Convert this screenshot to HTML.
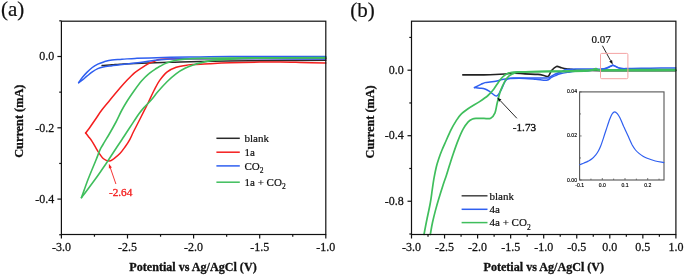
<!DOCTYPE html>
<html><head><meta charset="utf-8"><style>
html,body{margin:0;padding:0;background:#fff;}
body{width:685px;height:276px;overflow:hidden;font-family:"Liberation Serif", serif;}
svg{display:block;will-change:transform;}
</style></head><body>
<svg width="685" height="276" viewBox="0 0 685 276">
<rect width="685" height="276" fill="#fff"/>
<path d="M102.1,65.6 C103.8,65.5 109.0,65.0 112.0,64.8 C115.0,64.6 116.2,64.4 120.0,64.2 C123.8,64.0 126.7,63.7 135.0,63.4 C143.3,63.1 159.2,62.6 170.0,62.3 C180.8,62.0 186.7,61.6 200.0,61.4 C213.3,61.1 235.0,60.9 250.0,60.8 C265.0,60.6 277.4,60.6 290.0,60.5 C302.6,60.4 319.8,60.3 325.8,60.3" fill="none" stroke="#2a2a2a" stroke-width="1.5" stroke-linejoin="round" stroke-linecap="round" />
<path d="M325.8,63.1 C321.5,63.0 307.6,62.6 300.0,62.4 C292.4,62.2 286.7,62.0 280.0,62.0 C273.3,62.0 268.3,62.0 260.0,62.1 C251.7,62.2 238.3,62.5 230.0,62.8 C221.7,63.1 215.9,63.4 210.0,63.7 C204.1,64.0 198.5,64.2 194.4,64.5 C190.3,64.8 188.3,64.9 185.3,65.4 C182.3,65.9 179.3,66.2 176.3,67.3 C173.3,68.4 170.0,69.6 167.2,71.8 C164.4,74.0 161.7,77.5 159.5,80.6 C157.3,83.7 155.9,86.8 154.0,90.5 C152.1,94.2 149.9,99.2 148.3,102.5 C146.7,105.8 145.9,107.2 144.5,110.0 C143.1,112.8 141.8,115.4 140.0,119.0 C138.2,122.6 135.3,128.1 133.6,131.5 C131.9,134.9 131.3,136.7 129.9,139.3 C128.5,141.9 126.7,144.6 125.0,147.0 C123.3,149.4 121.7,151.7 119.9,153.6 C118.1,155.5 115.8,157.3 114.0,158.6 C112.2,159.8 110.8,161.1 109.0,161.1 C107.2,161.1 105.4,160.5 103.5,158.8 C101.6,157.1 99.3,153.5 97.5,150.7 C95.7,147.9 94.0,144.2 92.4,141.8 C90.9,139.4 89.3,137.7 88.2,136.2 C87.1,134.7 86.0,133.5 85.6,133.0" fill="none" stroke="#f41e1e" stroke-width="1.5" stroke-linejoin="round" stroke-linecap="round" />
<path d="M85.6,133.0 C86.3,132.0 88.3,129.6 90.0,127.2 C91.7,124.8 94.0,121.4 96.0,118.5 C98.0,115.6 99.4,113.1 101.8,110.0 C104.2,106.9 107.2,103.5 110.2,99.8 C113.2,96.1 117.2,91.4 120.0,88.1 C122.8,84.8 124.8,82.6 127.2,80.1 C129.6,77.6 132.1,75.0 134.5,72.9 C136.9,70.9 139.3,69.4 141.7,67.8 C144.1,66.2 147.1,64.4 149.0,63.4 C150.9,62.4 151.8,62.4 153.3,61.8 C154.8,61.2 156.1,60.3 158.0,59.8 C159.9,59.3 158.0,59.1 165.0,58.9 C172.0,58.7 173.2,58.8 200.0,58.7 C226.8,58.6 305.0,58.5 326.0,58.5" fill="none" stroke="#f41e1e" stroke-width="1.5" stroke-linejoin="round" stroke-linecap="round" />
<path d="M325.8,56.6 C318.2,56.6 296.0,56.4 280.0,56.4 C264.0,56.4 243.3,56.5 230.0,56.6 C216.7,56.7 210.0,56.8 200.0,56.9 C190.0,57.0 178.3,57.1 170.0,57.3 C161.7,57.5 155.8,57.7 150.0,57.9 C144.2,58.1 139.7,58.2 135.0,58.4 C130.3,58.6 125.8,59.0 122.0,59.2 C118.2,59.5 115.0,59.5 112.0,59.9 C109.0,60.3 106.7,61.0 104.3,61.7 C101.9,62.4 99.8,63.2 97.8,64.2 C95.8,65.2 94.1,66.1 92.3,67.5 C90.5,68.9 88.5,70.8 86.9,72.4 C85.3,74.0 83.9,75.6 82.5,77.3 C81.1,79.0 79.3,81.8 78.7,82.7" fill="none" stroke="#2f5ff0" stroke-width="1.5" stroke-linejoin="round" stroke-linecap="round" />
<path d="M78.7,82.7 C79.3,82.2 81.1,81.0 82.5,79.9 C83.9,78.8 85.3,77.5 86.9,76.2 C88.5,74.9 90.5,73.2 92.3,71.9 C94.1,70.6 96.0,69.4 97.8,68.6 C99.6,67.8 100.8,67.5 103.2,67.0 C105.6,66.5 109.2,66.1 112.0,65.7 C114.8,65.3 115.3,65.2 120.0,64.7 C124.7,64.2 134.2,63.1 140.0,62.4 C145.8,61.7 150.0,60.9 155.0,60.3 C160.0,59.7 162.5,59.2 170.0,58.9 C177.5,58.6 186.7,58.7 200.0,58.7 C213.3,58.7 233.3,58.8 250.0,58.8 C266.7,58.8 287.4,58.9 300.0,58.9 C312.6,58.9 321.5,58.9 325.8,58.9" fill="none" stroke="#2f5ff0" stroke-width="1.5" stroke-linejoin="round" stroke-linecap="round" />
<path d="M81.5,197.6 C82.6,194.6 85.7,185.6 88.1,179.3 C90.5,173.0 94.0,164.9 96.0,160.0 C98.0,155.1 98.8,152.4 100.0,149.8 C101.2,147.2 101.5,147.1 103.0,144.5 C104.5,141.9 106.8,138.2 109.0,134.5 C111.2,130.8 113.8,126.1 116.0,122.0 C118.2,117.9 120.0,113.5 121.9,110.0 C123.8,106.5 125.1,104.3 127.2,101.0 C129.3,97.7 132.1,93.7 134.5,90.3 C136.9,86.9 139.3,83.6 141.7,80.8 C144.1,78.0 146.6,75.6 149.0,73.6 C151.4,71.5 154.4,69.7 156.2,68.5 C158.0,67.3 158.2,67.3 160.0,66.3 C161.8,65.3 164.3,63.7 167.0,62.7 C169.7,61.7 173.0,60.9 176.0,60.3 C179.0,59.7 181.0,59.4 185.0,59.1 C189.0,58.8 189.2,58.6 200.0,58.4 C210.8,58.2 229.0,58.0 250.0,57.9 C271.0,57.8 313.2,57.6 325.8,57.6" fill="none" stroke="#3fbe5c" stroke-width="1.6" stroke-linejoin="round" stroke-linecap="round" />
<path d="M81.5,197.6 C82.6,196.2 85.8,192.0 88.0,189.0 C90.2,186.0 92.8,182.5 95.0,179.5 C97.2,176.5 99.2,173.6 101.0,171.0 C102.8,168.4 103.8,166.9 106.0,163.7 C108.2,160.4 111.5,155.3 114.0,151.5 C116.5,147.7 118.3,145.0 121.0,141.0 C123.7,137.0 127.0,131.8 130.0,127.3 C133.0,122.8 136.4,117.4 138.8,114.0 C141.2,110.6 142.4,109.3 144.5,107.0 C146.6,104.7 148.9,102.6 151.2,100.0 C153.4,97.4 155.4,94.6 158.0,91.6 C160.6,88.6 164.0,84.8 167.0,81.8 C170.0,78.8 173.0,76.0 176.0,73.8 C179.0,71.5 182.0,69.8 185.0,68.3 C188.0,66.8 191.5,65.6 194.0,64.7 C196.5,63.8 197.0,63.7 200.0,63.0 C203.0,62.3 207.0,61.0 212.0,60.4 C217.0,59.8 222.0,59.5 230.0,59.1 C238.0,58.7 244.0,58.4 260.0,58.2 C276.0,58.0 314.8,58.0 325.8,57.9" fill="none" stroke="#3fbe5c" stroke-width="1.6" stroke-linejoin="round" stroke-linecap="round" />
<line x1="115.90" y1="184.00" x2="110.40" y2="168.00" stroke="#f41e1e" stroke-width="0.9"/>
<path d="M108.9,163.8 L111.88,167.53 L108.86,168.57 Z" fill="#f41e1e"/>
<text x="109.00" y="196.00" font-family="Liberation Serif" font-size="11.2" font-weight="normal" fill="#f41e1e" text-anchor="start" stroke="#f41e1e" stroke-width="0.35">-2.64</text>
<rect x="61.4" y="21.2" width="264.40" height="213.30" fill="none" stroke="#111" stroke-width="1.2"/>
<line x1="61.40" y1="234.50" x2="61.40" y2="238.50" stroke="#111" stroke-width="1.2"/>
<text x="0" y="0" transform="translate(61.40,250.80) scale(1,1.08)" font-family="Liberation Serif" font-size="12" font-weight="normal" fill="#111" text-anchor="middle" stroke="#111" stroke-width="0.25">-3.0</text>
<line x1="94.45" y1="234.50" x2="94.45" y2="236.70" stroke="#111" stroke-width="1.2"/>
<line x1="127.50" y1="234.50" x2="127.50" y2="238.50" stroke="#111" stroke-width="1.2"/>
<text x="0" y="0" transform="translate(127.50,250.80) scale(1,1.08)" font-family="Liberation Serif" font-size="12" font-weight="normal" fill="#111" text-anchor="middle" stroke="#111" stroke-width="0.25">-2.5</text>
<line x1="160.55" y1="234.50" x2="160.55" y2="236.70" stroke="#111" stroke-width="1.2"/>
<line x1="193.60" y1="234.50" x2="193.60" y2="238.50" stroke="#111" stroke-width="1.2"/>
<text x="0" y="0" transform="translate(193.60,250.80) scale(1,1.08)" font-family="Liberation Serif" font-size="12" font-weight="normal" fill="#111" text-anchor="middle" stroke="#111" stroke-width="0.25">-2.0</text>
<line x1="226.65" y1="234.50" x2="226.65" y2="236.70" stroke="#111" stroke-width="1.2"/>
<line x1="259.70" y1="234.50" x2="259.70" y2="238.50" stroke="#111" stroke-width="1.2"/>
<text x="0" y="0" transform="translate(259.70,250.80) scale(1,1.08)" font-family="Liberation Serif" font-size="12" font-weight="normal" fill="#111" text-anchor="middle" stroke="#111" stroke-width="0.25">-1.5</text>
<line x1="292.75" y1="234.50" x2="292.75" y2="236.70" stroke="#111" stroke-width="1.2"/>
<line x1="325.80" y1="234.50" x2="325.80" y2="238.50" stroke="#111" stroke-width="1.2"/>
<text x="0" y="0" transform="translate(325.80,250.80) scale(1,1.08)" font-family="Liberation Serif" font-size="12" font-weight="normal" fill="#111" text-anchor="middle" stroke="#111" stroke-width="0.25">-1.0</text>
<line x1="61.40" y1="20.85" x2="59.20" y2="20.85" stroke="#111" stroke-width="1.2"/>
<line x1="61.40" y1="56.50" x2="57.40" y2="56.50" stroke="#111" stroke-width="1.2"/>
<text x="0" y="0" transform="translate(54.20,60.20) scale(1,1.08)" font-family="Liberation Serif" font-size="12" font-weight="normal" fill="#111" text-anchor="end" stroke="#111" stroke-width="0.25">0.0</text>
<line x1="61.40" y1="92.15" x2="59.20" y2="92.15" stroke="#111" stroke-width="1.2"/>
<line x1="61.40" y1="127.80" x2="57.40" y2="127.80" stroke="#111" stroke-width="1.2"/>
<text x="0" y="0" transform="translate(54.20,131.50) scale(1,1.08)" font-family="Liberation Serif" font-size="12" font-weight="normal" fill="#111" text-anchor="end" stroke="#111" stroke-width="0.25">-0.2</text>
<line x1="61.40" y1="163.45" x2="59.20" y2="163.45" stroke="#111" stroke-width="1.2"/>
<line x1="61.40" y1="199.10" x2="57.40" y2="199.10" stroke="#111" stroke-width="1.2"/>
<text x="0" y="0" transform="translate(54.20,202.80) scale(1,1.08)" font-family="Liberation Serif" font-size="12" font-weight="normal" fill="#111" text-anchor="end" stroke="#111" stroke-width="0.25">-0.4</text>
<line x1="61.40" y1="234.75" x2="59.20" y2="234.75" stroke="#111" stroke-width="1.2"/>
<text x="193.00" y="271.20" font-family="Liberation Serif" font-size="12.1" font-weight="bold" fill="#111" text-anchor="middle" stroke="#111" stroke-width="0.3">Potential vs Ag/AgCl (V)</text>
<text x="0.00" y="0.00" font-family="Liberation Serif" font-size="12.3" font-weight="bold" fill="#111" text-anchor="middle" stroke="#111" stroke-width="0.3" transform="translate(22.8,121.2) rotate(-90)">Current (mA)</text>
<text x="1.00" y="16.30" font-family="Liberation Serif" font-size="21" font-weight="normal" fill="#111" text-anchor="start" stroke="#111" stroke-width="0.2">(a)</text>
<line x1="216.40" y1="138.30" x2="239.80" y2="138.30" stroke="#2a2a2a" stroke-width="1.5"/>
<text x="244.50" y="142.10" font-family="Liberation Serif" font-size="11" font-weight="normal" fill="#111" text-anchor="start" stroke="#111" stroke-width="0.2">blank</text>
<line x1="216.40" y1="152.20" x2="239.80" y2="152.20" stroke="#f41e1e" stroke-width="1.5"/>
<text x="244.50" y="156.00" font-family="Liberation Serif" font-size="11" font-weight="normal" fill="#111" text-anchor="start" stroke="#111" stroke-width="0.2">1a</text>
<line x1="216.40" y1="165.90" x2="239.80" y2="165.90" stroke="#2f5ff0" stroke-width="1.5"/>
<text x="244.50" y="169.70" font-family="Liberation Serif" font-size="11" font-weight="normal" fill="#111" text-anchor="start" stroke="#111" stroke-width="0.2">CO<tspan font-size="7.5" dy="3.4">2</tspan></text>
<line x1="216.40" y1="182.20" x2="239.80" y2="182.20" stroke="#3fbe5c" stroke-width="1.5"/>
<text x="244.50" y="186.00" font-family="Liberation Serif" font-size="11" font-weight="normal" fill="#111" text-anchor="start" stroke="#111" stroke-width="0.2">1a + CO<tspan font-size="7.5" dy="3.4">2</tspan></text>
<path d="M462.8,74.9 C464.8,74.9 470.5,74.9 475.0,74.9 C479.5,74.9 485.0,74.9 490.0,74.7 C495.0,74.5 500.9,74.2 505.0,74.0 C509.1,73.8 511.2,73.2 514.5,73.2 C517.8,73.2 521.1,73.7 525.0,73.9 C528.9,74.1 534.7,74.1 538.0,74.4 C541.3,74.7 542.9,75.4 544.6,75.7 C546.3,76.0 547.2,77.1 548.4,76.2 C549.6,75.3 550.2,72.1 551.6,70.5 C553.0,68.9 555.0,67.0 556.5,66.5 C558.0,66.0 559.3,67.2 560.9,67.6 C562.5,68.0 564.4,68.5 566.3,68.8 C568.1,69.1 569.7,69.1 572.0,69.4 C574.3,69.7 575.3,70.2 580.0,70.4 C584.7,70.6 590.0,70.5 600.0,70.6 C610.0,70.6 627.4,70.7 640.0,70.7 C652.6,70.7 669.8,70.6 675.8,70.6" fill="none" stroke="#222" stroke-width="1.6" stroke-linejoin="round" stroke-linecap="round" />
<path d="M474.5,87.6 C475.6,87.1 479.1,85.2 480.9,84.4 C482.6,83.6 483.5,83.0 485.0,82.6 C486.5,82.2 488.5,82.2 490.0,82.0 C491.5,81.8 492.8,81.8 494.1,81.6 C495.4,81.4 496.7,81.1 498.0,80.8 C499.3,80.5 500.2,80.0 502.0,79.6 C503.8,79.2 506.3,78.7 508.5,78.4 C510.7,78.1 512.9,78.1 515.0,78.0 C517.1,77.9 518.5,77.9 521.0,77.9 C523.5,77.9 525.7,77.9 530.0,77.9 C534.3,77.9 543.4,78.2 546.7,78.1 C550.0,77.9 548.5,77.7 550.0,77.0 C551.5,76.3 553.6,74.8 555.4,74.0 C557.2,73.2 559.1,72.7 560.9,72.0 C562.7,71.3 563.6,70.1 566.0,69.6 C568.4,69.1 571.0,69.2 575.0,69.1 C579.0,69.0 585.8,69.0 590.0,69.0 C594.2,69.0 597.5,69.2 600.0,69.2 C602.5,69.2 602.9,69.3 605.0,68.7 C607.1,68.1 610.2,65.5 612.8,65.5 C615.4,65.5 617.5,67.9 620.4,68.4 C623.3,68.9 625.1,68.5 630.0,68.5 C634.9,68.5 642.4,68.3 650.0,68.2 C657.6,68.1 671.5,68.1 675.8,68.1" fill="none" stroke="#2f5ff0" stroke-width="1.5" stroke-linejoin="round" stroke-linecap="round" />
<path d="M474.5,87.6 C475.4,87.7 478.2,88.0 480.0,88.2 C481.8,88.4 483.3,88.4 485.0,89.0 C486.7,89.6 488.4,90.8 490.0,91.8 C491.6,92.8 493.4,94.6 494.6,95.3 C495.8,96.0 496.3,96.1 497.0,95.9 C497.7,95.7 497.9,95.3 498.7,94.1 C499.5,92.9 500.6,90.8 501.6,88.9 C502.6,87.0 503.6,84.1 504.5,82.5 C505.4,80.9 505.9,80.1 506.8,79.4 C507.7,78.8 507.0,78.8 510.0,78.6 C513.0,78.4 520.7,78.3 525.0,78.4 C529.3,78.5 532.3,78.9 535.9,79.2 C539.5,79.5 544.2,80.6 546.7,80.3 C549.2,80.0 549.7,78.4 551.1,77.6 C552.5,76.8 553.9,76.2 555.4,75.6 C556.9,74.9 558.1,74.2 560.2,73.7 C562.3,73.2 565.5,72.7 568.0,72.3 C570.5,71.9 571.3,71.5 575.0,71.2 C578.7,70.9 587.5,70.7 590.0,70.6" fill="none" stroke="#2f5ff0" stroke-width="1.5" stroke-linejoin="round" stroke-linecap="round" />
<path d="M424.0,234.5 C424.5,231.9 425.9,224.2 427.0,219.0 C428.1,213.8 429.4,207.8 430.3,203.0 C431.2,198.2 431.6,194.2 432.2,190.0 C432.8,185.8 433.4,181.5 434.1,177.7 C434.8,173.9 435.5,170.3 436.3,167.0 C437.1,163.7 438.1,160.8 439.0,158.1 C439.9,155.3 440.8,152.9 441.8,150.5 C442.8,148.1 443.3,146.9 444.8,143.6 C446.3,140.3 448.7,134.5 450.6,130.6 C452.5,126.7 454.7,123.1 456.4,120.4 C458.1,117.7 458.8,116.5 460.7,114.6 C462.6,112.7 464.9,111.0 468.0,108.8 C471.1,106.6 476.3,103.8 479.6,101.6 C482.9,99.4 485.6,97.6 488.0,95.5 C490.4,93.4 492.2,91.1 493.9,88.9 C495.6,86.7 496.9,84.4 498.3,82.4 C499.8,80.4 501.0,78.5 502.6,77.0 C504.2,75.5 506.2,74.1 508.0,73.3 C509.8,72.5 510.7,72.2 513.5,72.0 C516.3,71.8 517.2,72.0 525.0,71.8 C532.8,71.6 547.5,71.3 560.0,71.0 C572.5,70.7 586.7,70.1 600.0,69.9 C613.3,69.7 627.4,69.7 640.0,69.6 C652.6,69.5 669.8,69.5 675.8,69.5" fill="none" stroke="#3fbe5c" stroke-width="1.7" stroke-linejoin="round" stroke-linecap="round" />
<path d="M430.3,234.5 C430.7,232.5 431.6,226.5 432.5,222.5 C433.4,218.5 434.3,214.7 435.4,210.6 C436.5,206.5 437.7,202.2 439.0,198.0 C440.3,193.8 441.8,189.1 443.0,185.3 C444.2,181.5 445.4,178.4 446.5,175.0 C447.6,171.6 448.5,168.4 449.6,165.0 C450.7,161.6 451.6,158.6 453.0,154.5 C454.4,150.4 456.3,144.8 458.0,140.6 C459.7,136.4 461.4,132.3 463.1,129.2 C464.8,126.1 466.6,123.5 468.2,121.8 C469.8,120.1 471.0,119.6 472.5,119.0 C474.0,118.4 475.1,118.5 477.0,118.4 C478.9,118.3 481.7,118.4 484.0,118.4 C486.3,118.4 488.9,119.1 490.7,118.2 C492.5,117.3 493.9,115.3 495.0,112.8 C496.1,110.3 496.3,106.6 497.2,103.0 C498.1,99.4 499.1,94.7 500.4,91.1 C501.7,87.5 503.4,83.8 504.8,81.3 C506.2,78.8 507.3,77.4 509.1,75.9 C510.9,74.5 513.1,73.3 515.7,72.6 C518.4,71.9 517.6,72.0 525.0,71.8 C532.4,71.6 549.5,71.7 560.0,71.6 C570.5,71.5 582.0,71.5 588.0,71.0 C594.0,70.5 593.6,68.7 595.9,68.6 C598.2,68.5 594.6,70.3 602.0,70.6 C609.4,70.9 627.7,70.6 640.0,70.6 C652.3,70.6 669.8,70.5 675.8,70.5" fill="none" stroke="#3fbe5c" stroke-width="1.7" stroke-linejoin="round" stroke-linecap="round" />
<path d="M601.0,68.9 C601.7,68.8 603.8,68.7 605.0,68.5 C606.2,68.3 607.5,68.0 608.5,67.6 C609.5,67.2 610.5,66.5 611.2,66.1 C611.9,65.6 612.2,64.9 612.8,64.9 C613.4,64.9 613.9,65.6 614.6,66.0 C615.3,66.4 616.2,67.0 617.2,67.4 C618.2,67.8 619.3,68.0 620.4,68.2 C621.5,68.4 623.4,68.5 624.0,68.6" fill="none" stroke="#2f5ff0" stroke-width="1.3" stroke-linejoin="round" stroke-linecap="round" />
<line x1="516.90" y1="118.30" x2="500.30" y2="100.70" stroke="#111" stroke-width="0.9"/>
<path d="M497.2,97.4 L501.45,99.58 L499.12,101.78 Z" fill="#111"/>
<text x="512.80" y="130.60" font-family="Liberation Serif" font-size="11.2" font-weight="normal" fill="#111" text-anchor="start" stroke="#111" stroke-width="0.35">-1.73</text>
<line x1="602.40" y1="45.70" x2="610.60" y2="60.70" stroke="#111" stroke-width="0.9"/>
<path d="M612.8,64.6 L609.24,61.43 L612.04,59.89 Z" fill="#111"/>
<text x="591.60" y="43.00" font-family="Liberation Serif" font-size="11" font-weight="normal" fill="#111" text-anchor="start" stroke="#111" stroke-width="0.2">0.07</text>
<rect x="600.5" y="53.4" width="27.4" height="25.3" rx="1.2" fill="none" stroke="#f4a4a4" stroke-width="1"/>
<rect x="411.5" y="21.2" width="264.40" height="213.30" fill="none" stroke="#111" stroke-width="1.2"/>
<line x1="411.50" y1="234.50" x2="411.50" y2="238.50" stroke="#111" stroke-width="1.2"/>
<text x="0" y="0" transform="translate(411.50,250.80) scale(1,1.08)" font-family="Liberation Serif" font-size="12" font-weight="normal" fill="#111" text-anchor="middle" stroke="#111" stroke-width="0.25">-3.0</text>
<line x1="428.02" y1="234.50" x2="428.02" y2="236.70" stroke="#111" stroke-width="1.2"/>
<line x1="444.55" y1="234.50" x2="444.55" y2="238.50" stroke="#111" stroke-width="1.2"/>
<text x="0" y="0" transform="translate(444.55,250.80) scale(1,1.08)" font-family="Liberation Serif" font-size="12" font-weight="normal" fill="#111" text-anchor="middle" stroke="#111" stroke-width="0.25">-2.5</text>
<line x1="461.07" y1="234.50" x2="461.07" y2="236.70" stroke="#111" stroke-width="1.2"/>
<line x1="477.60" y1="234.50" x2="477.60" y2="238.50" stroke="#111" stroke-width="1.2"/>
<text x="0" y="0" transform="translate(477.60,250.80) scale(1,1.08)" font-family="Liberation Serif" font-size="12" font-weight="normal" fill="#111" text-anchor="middle" stroke="#111" stroke-width="0.25">-2.0</text>
<line x1="494.12" y1="234.50" x2="494.12" y2="236.70" stroke="#111" stroke-width="1.2"/>
<line x1="510.65" y1="234.50" x2="510.65" y2="238.50" stroke="#111" stroke-width="1.2"/>
<text x="0" y="0" transform="translate(510.65,250.80) scale(1,1.08)" font-family="Liberation Serif" font-size="12" font-weight="normal" fill="#111" text-anchor="middle" stroke="#111" stroke-width="0.25">-1.5</text>
<line x1="527.17" y1="234.50" x2="527.17" y2="236.70" stroke="#111" stroke-width="1.2"/>
<line x1="543.70" y1="234.50" x2="543.70" y2="238.50" stroke="#111" stroke-width="1.2"/>
<text x="0" y="0" transform="translate(543.70,250.80) scale(1,1.08)" font-family="Liberation Serif" font-size="12" font-weight="normal" fill="#111" text-anchor="middle" stroke="#111" stroke-width="0.25">-1.0</text>
<line x1="560.23" y1="234.50" x2="560.23" y2="236.70" stroke="#111" stroke-width="1.2"/>
<line x1="576.75" y1="234.50" x2="576.75" y2="238.50" stroke="#111" stroke-width="1.2"/>
<text x="0" y="0" transform="translate(576.75,250.80) scale(1,1.08)" font-family="Liberation Serif" font-size="12" font-weight="normal" fill="#111" text-anchor="middle" stroke="#111" stroke-width="0.25">-0.5</text>
<line x1="593.27" y1="234.50" x2="593.27" y2="236.70" stroke="#111" stroke-width="1.2"/>
<line x1="609.80" y1="234.50" x2="609.80" y2="238.50" stroke="#111" stroke-width="1.2"/>
<text x="0" y="0" transform="translate(609.80,250.80) scale(1,1.08)" font-family="Liberation Serif" font-size="12" font-weight="normal" fill="#111" text-anchor="middle" stroke="#111" stroke-width="0.25">0.0</text>
<line x1="626.33" y1="234.50" x2="626.33" y2="236.70" stroke="#111" stroke-width="1.2"/>
<line x1="642.85" y1="234.50" x2="642.85" y2="238.50" stroke="#111" stroke-width="1.2"/>
<text x="0" y="0" transform="translate(642.85,250.80) scale(1,1.08)" font-family="Liberation Serif" font-size="12" font-weight="normal" fill="#111" text-anchor="middle" stroke="#111" stroke-width="0.25">0.5</text>
<line x1="659.38" y1="234.50" x2="659.38" y2="236.70" stroke="#111" stroke-width="1.2"/>
<line x1="675.90" y1="234.50" x2="675.90" y2="238.50" stroke="#111" stroke-width="1.2"/>
<text x="0" y="0" transform="translate(675.90,250.80) scale(1,1.08)" font-family="Liberation Serif" font-size="12" font-weight="normal" fill="#111" text-anchor="middle" stroke="#111" stroke-width="0.25">1.0</text>
<line x1="411.50" y1="37.44" x2="409.30" y2="37.44" stroke="#111" stroke-width="1.2"/>
<line x1="411.50" y1="70.20" x2="407.50" y2="70.20" stroke="#111" stroke-width="1.2"/>
<text x="0" y="0" transform="translate(403.70,73.90) scale(1,1.08)" font-family="Liberation Serif" font-size="12" font-weight="normal" fill="#111" text-anchor="end" stroke="#111" stroke-width="0.25">0.0</text>
<line x1="411.50" y1="102.96" x2="409.30" y2="102.96" stroke="#111" stroke-width="1.2"/>
<line x1="411.50" y1="135.72" x2="407.50" y2="135.72" stroke="#111" stroke-width="1.2"/>
<text x="0" y="0" transform="translate(403.70,139.42) scale(1,1.08)" font-family="Liberation Serif" font-size="12" font-weight="normal" fill="#111" text-anchor="end" stroke="#111" stroke-width="0.25">-0.4</text>
<line x1="411.50" y1="168.48" x2="409.30" y2="168.48" stroke="#111" stroke-width="1.2"/>
<line x1="411.50" y1="201.24" x2="407.50" y2="201.24" stroke="#111" stroke-width="1.2"/>
<text x="0" y="0" transform="translate(403.70,204.94) scale(1,1.08)" font-family="Liberation Serif" font-size="12" font-weight="normal" fill="#111" text-anchor="end" stroke="#111" stroke-width="0.25">-0.8</text>
<line x1="411.50" y1="234.00" x2="409.30" y2="234.00" stroke="#111" stroke-width="1.2"/>
<text x="543.80" y="271.00" font-family="Liberation Serif" font-size="12.1" font-weight="bold" fill="#111" text-anchor="middle" stroke="#111" stroke-width="0.3">Potetial vs Ag/AgCl (V)</text>
<text x="0.00" y="0.00" font-family="Liberation Serif" font-size="12.3" font-weight="bold" fill="#111" text-anchor="middle" stroke="#111" stroke-width="0.3" transform="translate(373.8,121.9) rotate(-90)">Current (mA)</text>
<text x="350.20" y="16.60" font-family="Liberation Serif" font-size="21" font-weight="normal" fill="#111" text-anchor="start" stroke="#111" stroke-width="0.2">(b)</text>
<line x1="461.60" y1="195.80" x2="487.50" y2="195.80" stroke="#444" stroke-width="1.5"/>
<text x="489.50" y="199.50" font-family="Liberation Serif" font-size="11" font-weight="normal" fill="#111" text-anchor="start" stroke="#111" stroke-width="0.2">blank</text>
<line x1="461.60" y1="209.30" x2="487.50" y2="209.30" stroke="#2f5ff0" stroke-width="1.5"/>
<text x="489.50" y="213.00" font-family="Liberation Serif" font-size="11" font-weight="normal" fill="#111" text-anchor="start" stroke="#111" stroke-width="0.2">4a</text>
<line x1="461.60" y1="222.60" x2="487.50" y2="222.60" stroke="#3fbe5c" stroke-width="1.5"/>
<text x="489.50" y="226.30" font-family="Liberation Serif" font-size="11" font-weight="normal" fill="#111" text-anchor="start" stroke="#111" stroke-width="0.2">4a + CO<tspan font-size="7.5" dy="3.4">2</tspan></text>
<rect x="579.6" y="91.9" width="84.4" height="88.1" fill="#fff" stroke="#555" stroke-width="1.1"/>
<path d="M579.8,164.7 C580.5,164.4 582.6,163.6 584.0,163.0 C585.4,162.4 586.9,161.8 588.2,161.1 C589.5,160.4 590.7,159.9 592.0,158.8 C593.3,157.8 594.7,156.1 595.8,154.8 C596.9,153.5 597.7,152.3 598.5,150.8 C599.3,149.3 600.0,147.8 600.8,145.8 C601.6,143.8 602.4,141.2 603.3,138.6 C604.1,136.0 604.8,133.7 605.9,130.5 C607.0,127.3 608.6,122.0 609.7,119.2 C610.8,116.4 611.4,114.8 612.3,113.6 C613.1,112.4 614.0,111.8 614.8,111.8 C615.6,111.8 616.4,112.6 617.3,113.6 C618.1,114.6 618.8,115.6 619.9,117.8 C621.0,120.0 622.4,123.6 623.7,126.6 C625.1,129.6 626.6,132.7 628.0,135.8 C629.4,138.9 631.0,142.6 632.2,145.0 C633.5,147.4 634.4,148.6 635.5,150.0 C636.6,151.4 637.8,152.4 639.0,153.4 C640.2,154.4 641.6,155.4 643.0,156.2 C644.4,157.0 645.2,157.5 647.2,158.3 C649.2,159.1 652.5,160.3 655.3,161.0 C658.1,161.7 662.4,162.3 663.8,162.6" fill="none" stroke="#2f5ff0" stroke-width="1.2" stroke-linejoin="round" stroke-linecap="round" />
<line x1="579.60" y1="180.00" x2="579.60" y2="178.00" stroke="#555" stroke-width="0.8"/>
<text x="0" y="0" transform="translate(579.60,187.00) scale(1,1.2)" font-family="Liberation Sans" font-size="5.1" font-weight="normal" fill="#000" text-anchor="middle" stroke="#000" stroke-width="0.15">-0.1</text>
<line x1="590.95" y1="180.00" x2="590.95" y2="178.60" stroke="#555" stroke-width="0.8"/>
<line x1="602.30" y1="180.00" x2="602.30" y2="178.00" stroke="#555" stroke-width="0.8"/>
<text x="0" y="0" transform="translate(602.30,187.00) scale(1,1.2)" font-family="Liberation Sans" font-size="5.1" font-weight="normal" fill="#000" text-anchor="middle" stroke="#000" stroke-width="0.15">0.0</text>
<line x1="613.65" y1="180.00" x2="613.65" y2="178.60" stroke="#555" stroke-width="0.8"/>
<line x1="625.00" y1="180.00" x2="625.00" y2="178.00" stroke="#555" stroke-width="0.8"/>
<text x="0" y="0" transform="translate(625.00,187.00) scale(1,1.2)" font-family="Liberation Sans" font-size="5.1" font-weight="normal" fill="#000" text-anchor="middle" stroke="#000" stroke-width="0.15">0.1</text>
<line x1="636.35" y1="180.00" x2="636.35" y2="178.60" stroke="#555" stroke-width="0.8"/>
<line x1="647.70" y1="180.00" x2="647.70" y2="178.00" stroke="#555" stroke-width="0.8"/>
<text x="0" y="0" transform="translate(647.70,187.00) scale(1,1.2)" font-family="Liberation Sans" font-size="5.1" font-weight="normal" fill="#000" text-anchor="middle" stroke="#000" stroke-width="0.15">0.2</text>
<line x1="659.05" y1="180.00" x2="659.05" y2="178.60" stroke="#555" stroke-width="0.8"/>
<line x1="579.60" y1="180.00" x2="581.60" y2="180.00" stroke="#555" stroke-width="0.8"/>
<text x="0" y="0" transform="translate(577.00,181.50) scale(1,1.2)" font-family="Liberation Sans" font-size="5.1" font-weight="normal" fill="#000" text-anchor="end" stroke="#000" stroke-width="0.15">0.00</text>
<line x1="579.60" y1="157.97" x2="581.00" y2="157.97" stroke="#555" stroke-width="0.8"/>
<line x1="579.60" y1="135.95" x2="581.60" y2="135.95" stroke="#555" stroke-width="0.8"/>
<text x="0" y="0" transform="translate(577.00,137.45) scale(1,1.2)" font-family="Liberation Sans" font-size="5.1" font-weight="normal" fill="#000" text-anchor="end" stroke="#000" stroke-width="0.15">0.02</text>
<line x1="579.60" y1="113.93" x2="581.00" y2="113.93" stroke="#555" stroke-width="0.8"/>
<line x1="579.60" y1="91.90" x2="581.60" y2="91.90" stroke="#555" stroke-width="0.8"/>
<text x="0" y="0" transform="translate(577.00,93.40) scale(1,1.2)" font-family="Liberation Sans" font-size="5.1" font-weight="normal" fill="#000" text-anchor="end" stroke="#000" stroke-width="0.15">0.04</text>
</svg>
</body></html>
